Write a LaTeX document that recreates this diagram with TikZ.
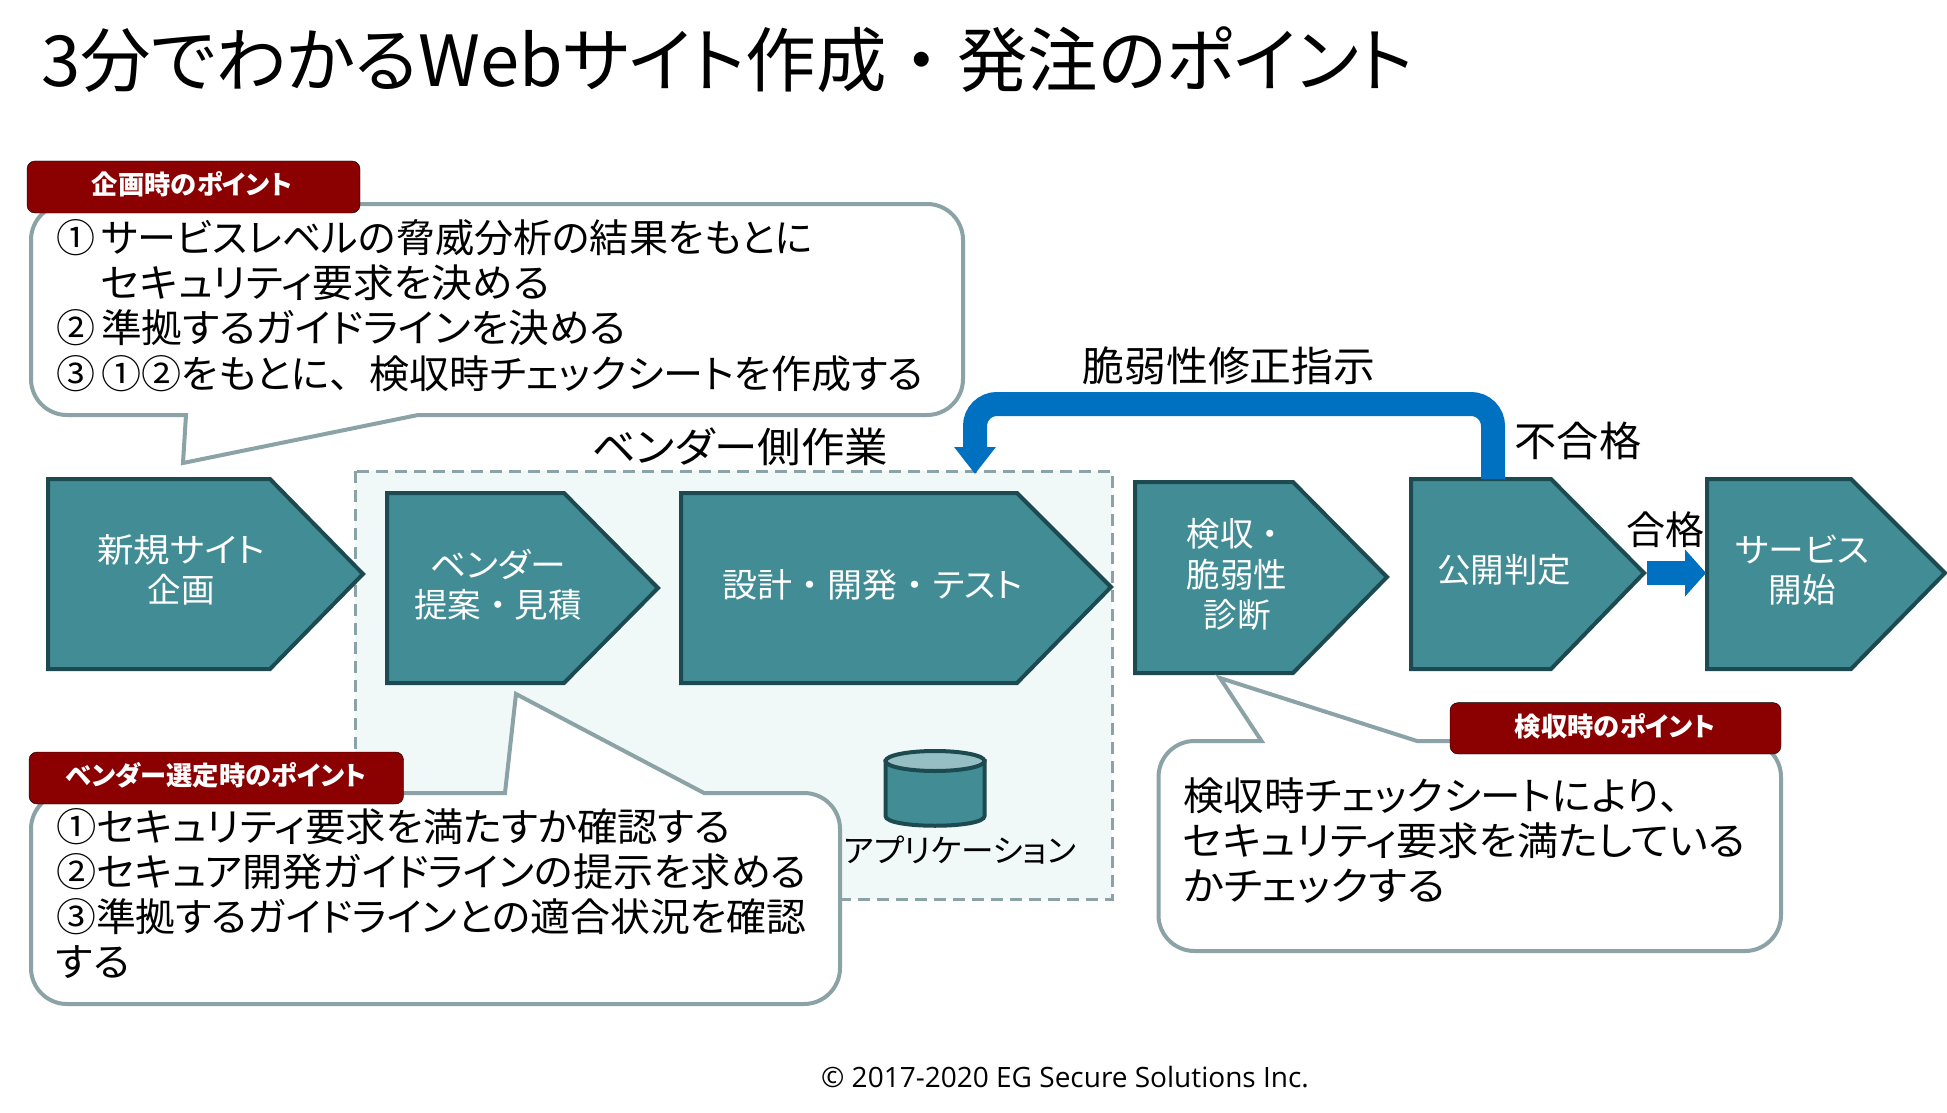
\documentclass[tikz,border=0pt]{standalone}
\usepackage{graphicx}
\usepackage{fontspec}
\usetikzlibrary{arrows.meta}
\setmainfont[RawFeature={+palt}]{Noto Sans CJK JP}
\newfontfamily\fullw{Noto Sans CJK JP}
\newfontfamily\ftfont{Open Sans}
\newcommand{\nk}{{\fullw ・}}
\newcommand{\tn}{{\fullw 、}}
\newcommand{\hs}[2]{\scalebox{#1}[1]{#2}}
\definecolor{tealfill}{HTML}{428D95}
\definecolor{tealline}{HTML}{1D4A50}
\definecolor{graybd}{HTML}{8BA3A6}
\definecolor{darkred}{HTML}{8B0000}
\definecolor{flowblue}{HTML}{0070C0}
\definecolor{palebg}{HTML}{F1F9F8}
\definecolor{cyltop}{HTML}{95BFC3}
\newcommand{\fsz}[2]{\fontsize{#1}{#2}\selectfont}
\tikzset{
  x=1pt,y=-1pt,
  stepshape/.style={draw=tealline,fill=tealfill,line width=4pt,line join=miter},
  steptext/.style={text=white,inner sep=0pt,align=center,font=\fsz{33.5}{40.5}},
  callout/.style={draw=graybd,fill=white,line width=4pt,miter limit=20},
  calltext/.style={inner sep=0pt,anchor=north west,align=left,text=black},
  redtag/.style={fill=darkred,rounded corners=8pt},
  redtext/.style={text=white,inner sep=0pt,font=\bfseries\fsz{26.3}{30}},
  plain/.style={inner sep=0pt,text=black},
  flow/.style={color=flowblue,line width=24pt}
}
\begin{document}
\begin{tikzpicture}
\useasboundingbox[fill=white] (0,0) rectangle (1947,1113);

% title
\node[plain,anchor=west,font=\fsz{70.5}{80}] (title) at (41,60) {3分でわかるWebサイト作成\nk 発注のポイント};

% vendor area
\draw[fill=palebg,draw=graybd,line width=3pt,dash pattern=on 12pt off 7pt] (355,471) rectangle (1112,899);
\node[plain,font=\fsz{41}{45}] (vendorlabel) at (740,447) {\hs{1.06}{ベンダー側作業}};

% steps
\draw[stepshape] (48,479) -- (270,479) -- (363,574) -- (270,669) -- (48,669) -- cycle;
\draw[stepshape] (387,493) -- (564,493) -- (658,588) -- (564,683) -- (387,683) -- cycle;
\draw[stepshape] (681,493) -- (1017,493) -- (1111,587) -- (1017,683) -- (681,683) -- cycle;
\draw[stepshape] (1135,482) -- (1293,482) -- (1387,577) -- (1293,673) -- (1135,673) -- cycle;
\draw[stepshape] (1411,479) -- (1551,479) -- (1644,573) -- (1551,669) -- (1411,669) -- cycle;
\draw[stepshape] (1707,479) -- (1851,479) -- (1945,573) -- (1851,669) -- (1707,669) -- cycle;

\node[steptext] (s1) at (181,570) {\hs{1.09}{新規サイト}\\企画};
\node[steptext] (s2) at (498,584.5) {\hs{1.07}{ベンダー}\\提案\nk 見積};
\node[steptext] (s3) at (873,585) {\hs{1.045}{設計\nk 開発\nk テスト}};
\node[steptext] (s4) at (1237,574.5) {検収\nk\\脆弱性\\診断};
\node[steptext] (s5) at (1504,570) {公開判定};
\node[steptext] (s6) at (1802,570) {\hs{1.07}{サービス}\\開始};

% connectors
\coordinate (a5top) at (1493,479);
\coordinate (a3in) at (975,474);
\coordinate (a5tip) at (1647,573);
\coordinate (a6in) at (1706,573);
\draw[flow,rounded corners=22pt,-{Triangle[length=27pt,width=40pt]}] (a5top) -- (1493,404) -- (975,404) -- (a3in);
\draw[flow,-{Triangle[length=21pt,width=46pt]}] (a5tip) -- (a6in);

\node[plain,font=\fsz{41}{45}] (fixlabel) at (1229,366) {\hs{1.02}{脆弱性修正指示}};
\node[plain,font=\fsz{41}{45}] (nglabel) at (1578,441) {\hs{1.03}{不合格}};
\node[plain,font=\fsz{39}{45}] (oklabel) at (1665,530) {合格};

% cylinder
\draw[stepshape,fill=tealfill] (885.5,761) -- (885.5,816) .. controls (885.5,829) and (984.5,829) .. (984.5,816) -- (984.5,761) -- cycle;
\draw[stepshape,fill=cyltop] (935,761) ellipse [x radius=49.5,y radius=10];
\node[plain,font=\fsz{32}{36}] (applabel) at (960,850) {\hs{1.02}{アプリケーション}};

% callout 1
\draw[callout,rounded corners=36pt] (418,415) -- (963,415) -- (963,204) -- (31,204) -- (31,415) [sharp corners] -- (186,415) -- (183,463) -- cycle;
\draw[redtag] (27,161) rectangle (360,213);
\node[redtext] (tag1) at (192,184) {企画時のポイント};
\node[calltext,font=\fsz{39}{45.3}] (c1) at (56,219) {①\hspace{6pt}\hs{1.002}{サービスレベルの脅威分析の結果をもとに}\\\phantom{①}\hspace{6pt}\hs{1.047}{セキュリティ要求を決める}\\②\hspace{6pt}\hs{1.045}{準拠するガイドラインを決める}\\③\hspace{6pt}\hs{1.028}{①②をもとに\tn 検収時チェックシートを作成する}};

% callout 2
\draw[callout,rounded corners=36pt] (704,793) -- (840,793) -- (840,1004) -- (31,1004) -- (31,793) [sharp corners] -- (505,793) -- (516,694) -- cycle;
\draw[redtag] (29,752) rectangle (403.5,804);
\node[redtext] (tag2) at (216,775) {ベンダー選定時のポイント};
\node[calltext,font=\fsz{39}{45}] (c2) at (56,808.5) {\hs{1.034}{①セキュリティ要求を満たすか確認する}\\\hs{1.03}{②セキュア開発ガイドラインの提示を求める}\\\hs{1.022}{③準拠するガイドラインとの適合状況を確認}\\\hs{1.05}{する}};

% callout 3
\draw[callout,rounded corners=36pt] (1261.5,741) -- (1158.5,741) -- (1158.5,951) -- (1781,951) -- (1781,741) [sharp corners] -- (1417,741) -- (1220,678) -- cycle;
\draw[redtag] (1450,702.6) rectangle (1781,754);
\node[redtext] (tag3) at (1615,726) {検収時のポイント};
\node[calltext,font=\fsz{39}{45.3}] (c3) at (1183,777) {\hs{1.04}{検収時チェックシートにより\tn}\\\hs{1.058}{セキュリティ要求を満たしている}\\\hs{1.085}{かチェックする}};

% footer
\node[plain,font=\ftfont\fsz{28}{32}] (footer) at (1065,1077) {© 2017-2020 EG Secure Solutions Inc.};
\end{tikzpicture}
\end{document}
